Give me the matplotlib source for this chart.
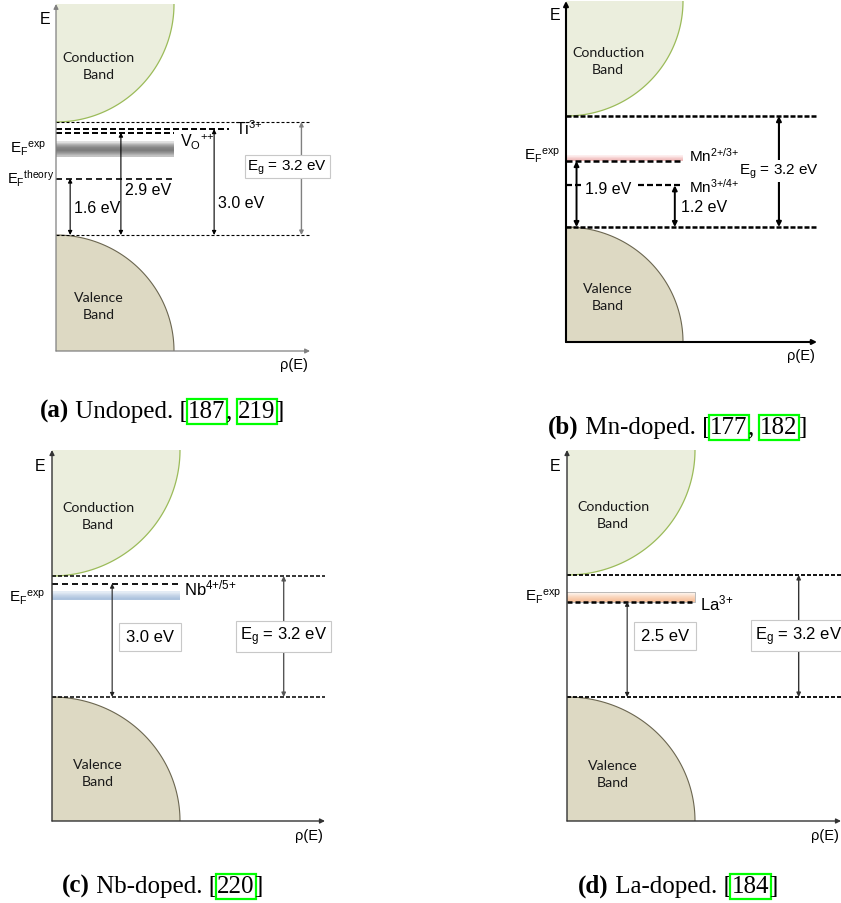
import numpy as np
import matplotlib
matplotlib.use("Agg")
import matplotlib.pyplot as plt
from matplotlib.colors import to_rgb

plt.rcParams['font.family'] = ['Liberation Sans', 'DejaVu Sans']
plt.rcParams['mathtext.fontset'] = 'custom'
plt.rcParams['mathtext.rm'] = 'Liberation Sans'
plt.rcParams['mathtext.it'] = 'Liberation Sans:italic'
plt.rcParams['mathtext.bf'] = 'Liberation Sans:bold'

W, H = 841, 904

# energies in eV, measured from the valence band edge
GAP = 3.2

# (a) undoped
a_names = ['Ti$^{3{+}}$', 'V$_\\mathrm{O}$$^{{+}{+}}$', 'E$_\\mathrm{F}$$^\\mathrm{theory}$']
a_levels = [3.0, 2.9, 1.6]
a_fermi = [2.21, 2.66]

# (b) Mn-doped
b_names = ['Mn$^{2{+}/3{+}}$', 'Mn$^{3{+}/4{+}}$']
b_levels = [1.9, 1.2]
b_fermi = [1.9, 2.05]

# (c) Nb-doped
c_names = ['Nb$^{4{+}/5{+}}$']
c_levels = [3.0]
c_fermi = [2.57, 2.79]

# (d) La-doped
d_names = ['La$^{3{+}}$']
d_levels = [2.5]
d_fermi = [2.5, 2.75]

cap_tags = ['(a)', '(b)', '(c)', '(d)']
cap_words = ['Undoped.', 'Mn-doped.', 'Nb-doped.', 'La-doped.']
cap_refs = [['187', '219'], ['177', '182'], ['220'], ['184']]

EG_TXT = f'E$_\\mathrm{{g}}$ = {GAP:.1f} eV'

fig = plt.figure(figsize=(W / 100, H / 100), dpi=100)
over = fig.add_axes([0, 0, 1, 1])
over.axis('off')


def dash(on, off, lw):
    # on/off in pixels
    return (0, (on * 0.72 / lw, off * 0.72 / lw))


def panel(L, R, T, B, y0, y32, bw):
    ax = fig.add_axes([L / W, 1 - B / H, (R - L) / W, (B - T) / H])
    s = (y0 - y32) / GAP
    lims = ((0, (R - L) / bw), (-(B - y0) / s, (y0 - T) / s))
    ax.set_xlim(*lims[0])
    ax.set_ylim(*lims[1])
    ax.axis('off')
    return ax, lims


def bands(ax, lims, axcol, axlw):
    x1 = lims[0][1]
    e0, e1 = lims[1]
    t = np.linspace(0, np.pi / 2, 80)
    cx = np.cos(t)
    cy = e1 - (e1 - GAP) * np.sin(t)
    ax.fill(np.r_[0, cx], np.r_[e1, cy], fc='#ebeedd', ec='none', zorder=1)
    ax.plot(cx, cy, color='#9bbb59', lw=0.9, zorder=1)
    vx = np.sin(t)
    vy = e0 - e0 * np.cos(t)
    ax.fill(np.r_[0, vx], np.r_[e0, vy], fc='#ddd9c3', ec='none', zorder=1)
    ax.plot(vx, vy, color='#6b6650', lw=0.8, zorder=1)
    ap = dict(arrowstyle='-|>', color=axcol, lw=axlw, mutation_scale=7, shrinkA=0, shrinkB=0)
    ax.annotate('', xy=(0, e1), xytext=(0, e0), arrowprops=ap, annotation_clip=False, zorder=5)
    ax.annotate('', xy=(x1, e0), xytext=(0, e0), arrowprops=ap, annotation_clip=False, zorder=5)
    band_font = dict(family=['Lato', 'DejaVu Sans'], fontsize=10.2, ha='center', va='center',
                     linespacing=1.5, color='#1a1a1a')
    ax.text(0.36, 4.79, 'Conduction\nBand', **band_font)
    ax.text(0.36, -2.0, 'Valence\nBand', **band_font)
    ax.text(-0.09, e1 - 0.4, 'E', fontsize=11.5, ha='center', va='center')
    ax.text(x1 - 0.02, e0 - 0.37, 'ρ(E)', fontsize=10.5, ha='right', va='center')


def edges(ax, lims, lw, on, off):
    for e in (0, GAP):
        ax.plot([0, lims[0][1]], [e, e], color='k', lw=lw, ls=dash(on, off, lw),
                clip_on=False, zorder=3)


def span(ax, x, lo, hi, color='k', lw=0.8, ms=6):
    ax.annotate('', xy=(x, hi), xytext=(x, lo),
                arrowprops=dict(arrowstyle='<|-|>', color=color, lw=lw, mutation_scale=ms,
                                shrinkA=0, shrinkB=0),
                annotation_clip=False, zorder=4)


def grad_bar(ax, lo, hi, colors, edge=None):
    rgb = np.array([to_rgb(c) for c in colors])[:, None, :]
    ax.imshow(rgb, extent=[0, 1, lo, hi], aspect='auto', interpolation='bilinear',
              origin='upper', zorder=2)
    if edge:
        ax.plot([0, 1, 1, 0], [hi, hi, lo, lo], color=edge, lw=0.6, zorder=2)


def boxed(ax, x, y, s, size=11.5, pad=0.3, ec='#c8c8c8'):
    ax.text(x, y, s, fontsize=size, ha='center', va='center', zorder=6, clip_on=False,
            bbox=dict(boxstyle=f'square,pad={pad}', fc='white', ec=ec, lw=0.8))


def fermi_label(ax, x, y):
    ax.text(x, y, 'E$_\\mathrm{F}$$^\\mathrm{exp}$', fontsize=11, ha='right', va='center')


def finish(ax, lims):
    ax.set_xlim(*lims[0])
    ax.set_ylim(*lims[1])


# ---------------- (a) ----------------
ax, lims = panel(56, 310, 5, 352, 236, 123, 118)
bands(ax, lims, '#808080', 0.9)
edges(ax, lims, 0.8, 3, 2)
grad_bar(ax, a_fermi[0], a_fermi[1], ['#e2e2e2', '#a8a8a8', '#858585', '#7c7c7c', '#999999', '#c4c4c4'])
ax.plot([0, 1.47], [a_levels[0]] * 2, color='k', lw=1.4, ls=dash(6, 3, 1.4), zorder=3)
ax.plot([0, 1.0], [a_levels[1]] * 2, color='k', lw=1.4, ls=dash(6, 3, 1.4), zorder=3)
ax.plot([0, 1.0], [a_levels[2]] * 2, color='k', lw=1.2, ls=dash(6, 4, 1.2), zorder=3)
ax.text(1.52, a_levels[0] + 0.05, a_names[0], fontsize=11.5, ha='left', va='center')
ax.text(1.05, a_levels[1] - 0.25, a_names[1], fontsize=11.5, ha='left', va='center')
ax.text(-0.02, a_levels[2] + 0.02, a_names[2], fontsize=10.5, ha='right', va='center')
fermi_label(ax, -0.08, 2.47)
span(ax, 0.12, 0, a_levels[2])
span(ax, 0.55, 0, a_levels[1])
span(ax, 1.34, 0, a_levels[0])
span(ax, 2.08, 0, GAP, color='#808080', lw=1.0)
ax.text(0.585, 1.30, f'{a_levels[1]:.1f} eV', fontsize=11.5, ha='left', va='center')
ax.text(0.15, 0.79, f'{a_levels[2]:.1f} eV', fontsize=11.5, ha='left', va='center')
ax.text(1.37, 0.91, f'{a_levels[0]:.1f} eV', fontsize=11.5, ha='left', va='center')
boxed(ax, 1.96, 1.93, EG_TXT, size=11, pad=0.15)
finish(ax, lims)

# ---------------- (b) ----------------
ax, lims = panel(566, 817, 2, 343, 228, 117, 117)
bands(ax, lims, 'k', 1.5)
edges(ax, lims, 1.8, 5, 2)
grad_bar(ax, b_fermi[0], b_fermi[1], ['#fdeeee', '#f6d0d0', '#f0bcbc'])
ax.plot([0, 1.0], [b_levels[0]] * 2, color='k', lw=1.8, ls=dash(6, 3, 1.8), zorder=3)
ax.plot([0, 1.0], [b_levels[1]] * 2, color='k', lw=1.6, ls=dash(6, 3, 1.6), zorder=3)
ax.text(1.05, b_levels[0] + 0.17, b_names[0], fontsize=11, ha='left', va='center', zorder=8)
ax.text(1.05, b_levels[1], b_names[1], fontsize=11, ha='left', va='center', zorder=8)
fermi_label(ax, -0.05, b_levels[0] + 0.17)
span(ax, 0.09, 0, b_levels[0], lw=1.4, ms=7)
span(ax, 0.93, 0, b_levels[1], lw=1.4, ms=7)
span(ax, 1.82, 0, GAP, lw=1.5, ms=7)
ax.text(0.36, b_levels[1] - 0.08, f'{b_levels[0]:.1f} eV', fontsize=11.5, ha='center', va='center',
        zorder=6, bbox=dict(boxstyle='square,pad=0.25', fc='white', ec='none'))
ax.text(0.98, 0.6, f'{b_levels[1]:.1f} eV', fontsize=11.5, ha='left', va='center')
ax.text(1.82, 1.61, EG_TXT, fontsize=11, ha='center', va='center',
        zorder=6, bbox=dict(boxstyle='square,pad=0.12', fc='white', ec='none'))
finish(ax, lims)

# ---------------- (c) ----------------
ax, lims = panel(52, 325, 451, 822, 698, 577, 128)
bands(ax, lims, '#333333', 1.0)
edges(ax, lims, 1.1, 4, 2)
grad_bar(ax, c_fermi[0], c_fermi[1], ['#e4ecf5', '#c6d5e8', '#aec4de'])
ax.plot([0, 1.0], [c_levels[0]] * 2, color='k', lw=1.3, ls=dash(6, 4, 1.3), zorder=3)
ax.text(1.03, c_levels[0] - 0.09, c_names[0], fontsize=12, ha='left', va='center')
fermi_label(ax, -0.055, 2.64)
span(ax, 0.47, 0, c_levels[0], color='#222222')
span(ax, 1.81, 0, GAP, color='#555555', lw=1.0)
boxed(ax, 0.766, 1.59, f'{c_levels[0]:.1f} eV', size=12, pad=0.4)
boxed(ax, 1.81, 1.61, EG_TXT, size=12, pad=0.25)
finish(ax, lims)

# ---------------- (d) ----------------
ax, lims = panel(567, 841, 451, 822, 698, 576, 128)
bands(ax, lims, '#333333', 1.0)
edges(ax, lims, 1.3, 4, 2)
grad_bar(ax, d_fermi[0], d_fermi[1], ['#fdf0e6', '#fad6bd', '#f7c3a0'], edge='#b0b0b0')
ax.plot([0, 1.0], [d_levels[0]] * 2, color='k', lw=1.8, ls=dash(5, 3, 1.8), zorder=3)
ax.text(1.04, d_levels[0] - 0.03, d_names[0], fontsize=12, ha='left', va='center')
fermi_label(ax, -0.047, 2.65)
span(ax, 0.47, 0, d_levels[0], color='#222222')
span(ax, 1.81, 0, GAP, color='#333333', lw=1.0)
boxed(ax, 0.766, 1.6, f'{d_levels[0]:.1f} eV', size=12, pad=0.4)
boxed(ax, 1.81, 1.62, EG_TXT, size=12, pad=0.25)
finish(ax, lims)


# ---------------- captions ----------------
def caption(px, py, tag, word, refs):
    serif = dict(family=['Liberation Serif', 'DejaVu Serif'], fontsize=18)
    t = over.text(px / W, 1 - py / H, tag, fontweight='bold', va='baseline', ha='left', **serif)
    nxt = dict(xy=(1, 0), va='bottom', ha='left', **serif)
    t = over.annotate(' ' + word + ' [', xycoords=t, **nxt)
    for i, r in enumerate(refs):
        if i:
            t = over.annotate(', ', xycoords=t, **nxt)
        t = over.annotate(r, xycoords=t,
                          bbox=dict(boxstyle='square,pad=0.06', fc='none', ec='#00ff00', lw=1.6),
                          **nxt)
    over.annotate(']', xycoords=t, **nxt)


caption(40, 418, cap_tags[0], cap_words[0], cap_refs[0])
caption(548, 434, cap_tags[1], cap_words[1], cap_refs[1])
caption(62, 893, cap_tags[2], cap_words[2], cap_refs[2])
caption(578, 893, cap_tags[3], cap_words[3], cap_refs[3])

fig.savefig('out.png', dpi=100)
